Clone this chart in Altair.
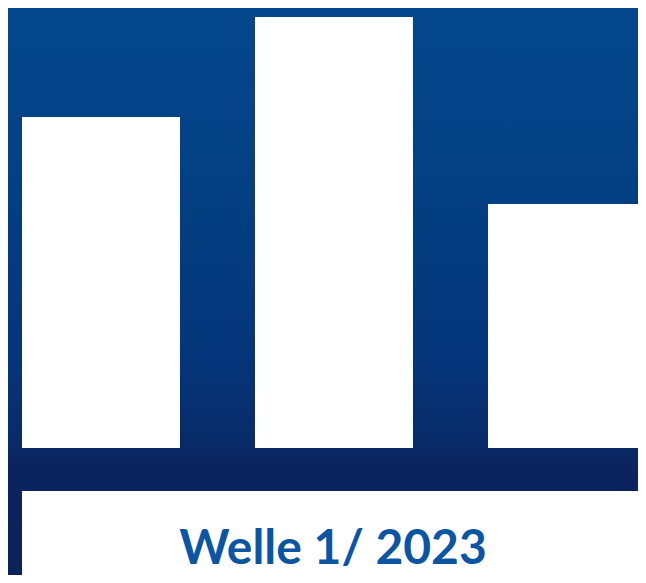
import altair as alt
import pandas as pd

categories = ["A", "B", "C"]
values = [33.1, 43.1, 24.4]
caption = "Welle 1/ 2023"

df = pd.DataFrame({"cat": categories, "val": values})

W, H = 630, 567

bg = alt.Chart(pd.DataFrame({"k": [0]})).mark_rect(
    fill=alt.Gradient(
        gradient="linear", x1=0, y1=0, x2=0, y2=1,
        stops=[
            alt.GradientStop(offset=0, color="#04478d"),
            alt.GradientStop(offset=0.34, color="#033f82"),
            alt.GradientStop(offset=0.62, color="#05357a"),
            alt.GradientStop(offset=0.77, color="#082b68"),
            alt.GradientStop(offset=0.80, color="#0b2460"),
            alt.GradientStop(offset=1, color="#0a2359"),
        ],
    )
).encode(x=alt.value(0), x2=alt.value(W), y=alt.value(0), y2=alt.value(H))

bars = alt.Chart(df).mark_bar(color="white", opacity=1).encode(
    x=alt.X("cat:N", axis=None,
            scale=alt.Scale(paddingInner=0.3219, paddingOuter=0.0601, range=[0, 652])),
    y=alt.Y("val:Q", axis=None, scale=alt.Scale(domain=[0, 44], range=[440, 0])),
)

box = alt.Chart(pd.DataFrame({"k": [0]})).mark_rect(color="white").encode(
    x=alt.value(14), x2=alt.value(W), y=alt.value(483), y2=alt.value(H)
)

label = alt.Chart(pd.DataFrame({"t": [caption]})).mark_text(
    font="Lato", fontWeight="bold", fontSize=48, color="#0b55a3",
    align="center", baseline="alphabetic"
).encode(x=alt.value(325), y=alt.value(556), text="t:N")

chart = alt.layer(bg, bars, box, label).properties(
    width=W, height=H, padding=0,
    autosize=alt.AutoSizeParams(type="none")
).configure_view(stroke=None).configure(background="#ffffff")

chart.save("out.html", embed_options={"renderer": "svg", "actions": False})
